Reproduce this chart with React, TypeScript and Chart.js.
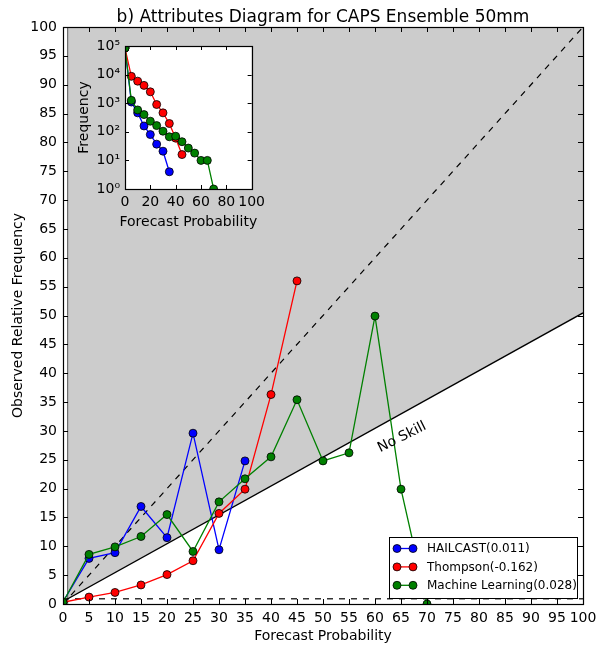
import React, { useEffect, useRef } from 'react';
import { Chart, registerables } from 'chart.js';

Chart.register(...registerables);

const FONT = '"DejaVu Sans", sans-serif';

// ---- data ----
const probabilities = [0, 5, 10, 15, 20, 25, 30, 35, 40, 45, 50, 55, 60, 65, 70];
const hailcastObs = [0.4, 7.9, 8.9, 16.9, 11.5, 29.6, 9.4, 24.8];
const thompsonObs = [0.3, 1.2, 2.0, 3.3, 5.1, 7.5, 15.7, 19.9, 36.3, 56.0];
const mlObs = [0.3, 8.6, 9.9, 11.7, 15.5, 9.1, 17.7, 21.7, 25.5, 35.4, 24.8, 26.2, 49.9, 19.9, 0];
const hailcastCount = [85000, 1100, 460, 160, 80, 37, 21, 4];
const thompsonCount = [85000, 8700, 5900, 4200, 2500, 900, 460, 195, 60, 16];
const mlCount = [85000, 1260, 580, 400, 235, 165, 105, 67, 70, 45, 27, 18, 10, 10, 1];
const seriesLabels = ['HAILCAST(0.011)', 'Thompson(-0.162)', 'Machine Learning(0.028)'];
const seriesColors = ['#0000ff', '#ff0000', '#008000'];
const climatology = 0.9;
const insetYTicks = [1, 10, 100, 1000, 10000, 100000];
const insetYLabels = ['10\u2070', '10\u00b9', '10\u00b2', '10\u00b3', '10\u2074', '10\u2075'];
const chartTitle = 'b) Attributes Diagram for CAPS Ensemble 50mm';
const noSkillLabel = 'No Skill';
const xAxisTitle = 'Forecast Probability';

const toPoints = (obs: number[]) => obs.map((y, i) => ({ x: probabilities[i], y }));

const framePlugin = {
  id: 'frame',
  afterDatasetsDraw(chart: any, _args: any, opts: any) {
    const { ctx, chartArea: a, scales } = chart;
    const L = opts.tickLen ?? 5;
    ctx.save();
    ctx.strokeStyle = '#000';
    ctx.lineWidth = 1;
    ctx.beginPath();
    const xs = scales.x, ys = scales.y;
    for (const t of xs.ticks) {
      const p = Math.round(xs.getPixelForValue(t.value)) + 0.5;
      ctx.moveTo(p, a.bottom); ctx.lineTo(p, a.bottom - L);
      ctx.moveTo(p, a.top); ctx.lineTo(p, a.top + L);
    }
    for (const t of ys.ticks) {
      const p = Math.round(ys.getPixelForValue(t.value)) + 0.5;
      ctx.moveTo(a.left, p); ctx.lineTo(a.left + L, p);
      ctx.moveTo(a.right, p); ctx.lineTo(a.right - L, p);
    }
    ctx.stroke();
    ctx.lineWidth = 1.2;
    ctx.strokeRect(Math.round(a.left) + 0.5, Math.round(a.top) + 0.5, Math.round(a.right - a.left), Math.round(a.bottom - a.top));
    ctx.restore();
  },
};

const whiteAreaPlugin = {
  id: 'whiteArea',
  beforeDraw(chart: any) {
    const { ctx, chartArea: a } = chart;
    ctx.save();
    ctx.fillStyle = '#ffffff';
    ctx.fillRect(a.left, a.top, a.right - a.left, a.bottom - a.top);
    ctx.restore();
  },
  afterDraw(chart: any) {
    const { ctx, chartArea: a } = chart;
    ctx.save();
    ctx.fillStyle = '#000';
    ctx.font = `14px ${FONT}`;
    ctx.textAlign = 'center';
    ctx.textBaseline = 'middle';
    ctx.fillText(xAxisTitle, (a.left + a.right) / 2, a.bottom + 33);
    ctx.restore();
  },
};

const decorPlugin = {
  id: 'decor',
  afterDraw(chart: any) {
    const { ctx, chartArea: a, scales } = chart;
    ctx.save();
    // title
    ctx.fillStyle = '#000';
    ctx.font = `17px ${FONT}`;
    ctx.textAlign = 'center';
    ctx.textBaseline = 'alphabetic';
    ctx.fillText(chartTitle, (a.left + a.right) / 2, 22);
    // no skill label
    const px = scales.x.getPixelForValue(65.2);
    const py = scales.y.getPixelForValue(28.9);
    ctx.translate(px, py);
    ctx.rotate(-Math.atan(0.5));
    ctx.font = `14px ${FONT}`;
    ctx.textBaseline = 'middle';
    ctx.fillText(noSkillLabel, 0, 0);
    ctx.restore();

    // legend
    ctx.save();
    const w = 188, h = 61;
    const x0 = Math.round(a.right - 6 - w), y0 = Math.round(a.bottom - 6 - h);
    ctx.fillStyle = '#fff';
    ctx.fillRect(x0, y0, w, h);
    ctx.strokeStyle = '#000';
    ctx.lineWidth = 1;
    ctx.strokeRect(x0 + 0.5, y0 + 0.5, w, h);
    ctx.font = `12px ${FONT}`;
    ctx.textAlign = 'left';
    ctx.textBaseline = 'middle';
    seriesLabels.forEach((lab, i) => {
      const yy = y0 + 11.5 + i * 18.4;
      ctx.strokeStyle = seriesColors[i];
      ctx.lineWidth = 1.3;
      ctx.beginPath();
      ctx.moveTo(x0 + 8, yy); ctx.lineTo(x0 + 24, yy);
      ctx.stroke();
      for (const mx of [x0 + 8, x0 + 24]) {
        ctx.beginPath();
        ctx.arc(mx, yy, 4, 0, Math.PI * 2);
        ctx.fillStyle = seriesColors[i];
        ctx.fill();
        ctx.strokeStyle = '#000';
        ctx.lineWidth = 0.8;
        ctx.stroke();
      }
      ctx.fillStyle = '#000';
      ctx.fillText(lab, x0 + 38, yy + 0.5);
    });
    ctx.restore();
  },
};

function seriesDataset(i: number, data: any[], order: number) {
  return {
    label: seriesLabels[i],
    data,
    borderColor: seriesColors[i],
    backgroundColor: seriesColors[i],
    pointBackgroundColor: seriesColors[i],
    pointBorderColor: '#000',
    pointBorderWidth: 0.8,
    pointRadius: 4,
    borderWidth: 1.3,
    fill: false,
    tension: 0,
    clip: 0,
    order,
  };
}

export default function App() {
  const mainRef = useRef<HTMLCanvasElement>(null);
  const insetRef = useRef<HTMLCanvasElement>(null);

  useEffect(() => {
    const lineDs = (data: any[], extra: any = {}) => ({
      data,
      borderColor: '#000',
      borderWidth: 1.2,
      pointRadius: 0,
      fill: false,
      clip: 0,
      order: 6,
      ...extra,
    });
    const noSkillAt = (x: number) => (x + climatology) / 2;

    const main = new Chart(mainRef.current!, {
      type: 'line',
      data: {
        datasets: [
          lineDs([{ x: climatology, y: noSkillAt(climatology) }, { x: 100, y: noSkillAt(100) }], {
            fill: 'end', backgroundColor: '#cccccc', borderColor: 'rgba(0,0,0,0)', borderWidth: 0, order: 10,
          }),
          lineDs([{ x: 0, y: noSkillAt(0) }, { x: 100, y: noSkillAt(100) }], { borderWidth: 1.3 }),
          lineDs([{ x: 0, y: 0 }, { x: 100, y: 100 }], { borderDash: [6, 6] }),
          lineDs([{ x: 0, y: climatology }, { x: 100, y: climatology }], { borderDash: [6, 6] }),
          lineDs([{ x: climatology, y: 0 }, { x: climatology, y: 100 }], { borderColor: '#555', borderWidth: 1 }),
          seriesDataset(0, toPoints(hailcastObs), 3),
          seriesDataset(1, toPoints(thompsonObs), 2),
          seriesDataset(2, toPoints(mlObs), 1),
        ],
      },
      options: {
        animation: false,
        responsive: false,
        devicePixelRatio: 1,
        events: [],
        layout: { padding: { top: 27, right: 20, left: 0, bottom: 0 } },
        plugins: {
          legend: { display: false },
          tooltip: { enabled: false },
          title: { display: false },
          frame: { tickLen: 5 },
        } as any,
        scales: {
          x: {
            type: 'linear', min: 0, max: 100,
            grid: { display: false, drawTicks: false },
            border: { display: false },
            ticks: { stepSize: 5, padding: 6, color: '#000', font: { family: FONT, size: 14 }, maxRotation: 0, autoSkip: false },
            title: { display: true, text: xAxisTitle, color: '#000', font: { family: FONT, size: 14 }, padding: { top: 0, bottom: 1 } },
            afterFit: (s: any) => { s.height = 42; },
          },
          y: {
            type: 'linear', min: 0, max: 100,
            grid: { display: false, drawTicks: false },
            border: { display: false },
            ticks: { stepSize: 5, padding: 6, color: '#000', font: { family: FONT, size: 14 }, autoSkip: false },
            title: { display: true, text: 'Observed Relative Frequency', color: '#000', font: { family: FONT, size: 14 }, padding: { top: 10, bottom: 0 } },
            afterFit: (s: any) => { s.width = 63; },
          },
        },
      } as any,
      plugins: [framePlugin, decorPlugin],
    });

    const countPoints = (counts: number[]) => counts.map((y, i) => ({ x: probabilities[i], y }));

    const inset = new Chart(insetRef.current!, {
      type: 'line',
      data: {
        datasets: [
          seriesDataset(0, countPoints(hailcastCount), 3),
          seriesDataset(1, countPoints(thompsonCount), 2),
          seriesDataset(2, countPoints(mlCount), 1),
        ],
      },
      options: {
        animation: false,
        responsive: false,
        devicePixelRatio: 1,
        events: [],
        layout: { padding: { top: 16, right: 15, left: 0, bottom: 0 } },
        plugins: {
          legend: { display: false },
          tooltip: { enabled: false },
          title: { display: false },
          frame: { tickLen: 4 },
        } as any,
        scales: {
          x: {
            type: 'linear', min: 0, max: 100,
            grid: { display: false, drawTicks: false },
            border: { display: false },
            ticks: { stepSize: 20, padding: 5, color: '#000', font: { family: FONT, size: 14 }, maxRotation: 0, autoSkip: false },
            title: { display: false },
            afterFit: (s: any) => { s.height = 46; },
          },
          y: {
            type: 'logarithmic', min: 1, max: 100000,
            grid: { display: false, drawTicks: false },
            border: { display: false },
            afterBuildTicks: (s: any) => { s.ticks = insetYTicks.map((v) => ({ value: v })); },
            ticks: {
              padding: 5, color: '#000', font: { family: FONT, size: 14 }, autoSkip: false,
              callback: (v: any) => { const k = insetYTicks.indexOf(Number(v)); return k >= 0 ? insetYLabels[k] : ''; },
            },
            title: { display: true, text: 'Frequency', color: '#000', font: { family: FONT, size: 14 }, padding: { top: 5.6, bottom: 0 } },
            afterFit: (s: any) => { s.width = 55; },
          },
        },
      } as any,
      plugins: [whiteAreaPlugin, framePlugin],
    });

    return () => { main.destroy(); inset.destroy(); };
  }, []);

  return (
    <div style={{ position: 'absolute', left: 0, top: 0, width: 603, height: 646, background: '#fff' }}>
      <canvas ref={mainRef} width={603} height={646} style={{ position: 'absolute', left: 0, top: 0 }} />
      <canvas ref={insetRef} width={200} height={205} style={{ position: 'absolute', left: 70, top: 30 }} />
    </div>
  );
}
